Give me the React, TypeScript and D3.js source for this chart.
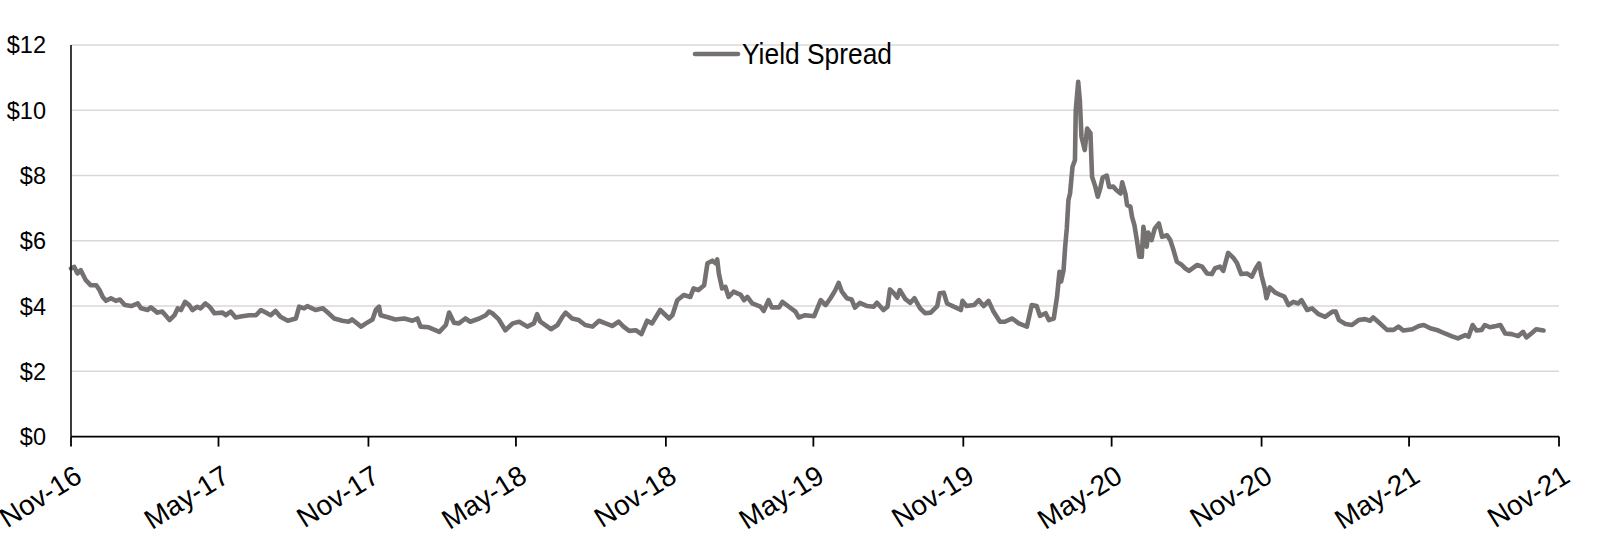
import React from "react";
import * as d3 from "d3";

const dates: string[] = [
  "2016-11-01","2016-11-05","2016-11-09","2016-11-13","2016-11-19","2016-11-25","2016-12-02","2016-12-06","2016-12-10","2016-12-14",
  "2016-12-20","2016-12-26","2016-12-31","2017-01-06","2017-01-14","2017-01-22","2017-01-26","2017-02-03","2017-02-07","2017-02-15",
  "2017-02-21","2017-02-25","2017-03-02","2017-03-08","2017-03-12","2017-03-16","2017-03-21","2017-03-26","2017-03-30","2017-04-05",
  "2017-04-09","2017-04-15","2017-04-20","2017-04-26","2017-05-06","2017-05-10","2017-05-16","2017-05-22","2017-05-30","2017-06-08",
  "2017-06-16","2017-06-22","2017-06-28","2017-07-04","2017-07-10","2017-07-16","2017-07-25","2017-08-04","2017-08-08","2017-08-14",
  "2017-08-18","2017-08-28","2017-09-06","2017-09-12","2017-09-20","2017-09-30","2017-10-08","2017-10-12","2017-10-23","2017-10-29",
  "2017-11-06","2017-11-10","2017-11-14","2017-11-16","2017-11-26","2017-12-04","2017-12-15","2017-12-25","2017-12-31","2018-01-04",
  "2018-01-14","2018-01-27","2018-02-04","2018-02-08","2018-02-14","2018-02-20","2018-02-28","2018-03-06","2018-03-17","2018-03-25",
  "2018-03-29","2018-04-02","2018-04-10","2018-04-18","2018-04-27","2018-05-05","2018-05-15","2018-05-23","2018-05-27","2018-05-31",
  "2018-06-13","2018-06-21","2018-06-27","2018-07-01","2018-07-09","2018-07-17","2018-07-25","2018-08-03","2018-08-11","2018-08-19",
  "2018-08-27","2018-09-04","2018-09-10","2018-09-17","2018-09-25","2018-10-02","2018-10-09","2018-10-15","2018-10-25","2018-11-05",
  "2018-11-09","2018-11-15","2018-11-23","2018-12-01","2018-12-05","2018-12-11","2018-12-18","2018-12-22","2018-12-28","2019-01-01",
  "2019-01-03","2019-01-05","2019-01-09","2019-01-13","2019-01-17","2019-01-23","2019-02-01","2019-02-05","2019-02-09","2019-02-15",
  "2019-02-25","2019-03-01","2019-03-07","2019-03-11","2019-03-20","2019-03-24","2019-04-01","2019-04-09","2019-04-13","2019-04-21",
  "2019-05-02","2019-05-10","2019-05-16","2019-05-22","2019-05-28","2019-06-01","2019-06-05","2019-06-11","2019-06-17","2019-06-21",
  "2019-06-27","2019-07-06","2019-07-14","2019-07-18","2019-07-26","2019-07-31","2019-08-03","2019-08-08","2019-08-12","2019-08-15",
  "2019-08-22","2019-08-28","2019-09-02","2019-09-09","2019-09-15","2019-09-22","2019-09-30","2019-10-03","2019-10-08","2019-10-12",
  "2019-10-23","2019-10-29","2019-10-31","2019-11-05","2019-11-14","2019-11-20","2019-11-26","2019-12-02","2019-12-08","2019-12-16",
  "2019-12-22","2019-12-31","2020-01-08","2020-01-18","2020-01-24","2020-01-30","2020-02-03","2020-02-10","2020-02-14","2020-02-20",
  "2020-02-24","2020-02-27","2020-02-29","2020-03-03","2020-03-05","2020-03-07","2020-03-09","2020-03-11","2020-03-14","2020-03-17",
  "2020-03-18","2020-03-21","2020-03-23","2020-03-25","2020-03-29","2020-04-01","2020-04-05","2020-04-07","2020-04-11","2020-04-14",
  "2020-04-17","2020-04-20","2020-04-25","2020-04-28","2020-05-03","2020-05-07","2020-05-12","2020-05-14","2020-05-18","2020-05-20",
  "2020-05-24","2020-05-26","2020-05-29","2020-06-01","2020-06-04","2020-06-07","2020-06-09","2020-06-13","2020-06-15","2020-06-19",
  "2020-06-23","2020-06-28","2020-07-02","2020-07-08","2020-07-12","2020-07-16","2020-07-20","2020-07-26","2020-07-30","2020-08-04",
  "2020-08-14","2020-08-20","2020-08-26","2020-09-01","2020-09-05","2020-09-11","2020-09-15","2020-09-21","2020-09-28","2020-10-02",
  "2020-10-07","2020-10-14","2020-10-20","2020-10-25","2020-10-29","2020-11-01","2020-11-05","2020-11-07","2020-11-11","2020-11-18",
  "2020-11-24","2020-11-29","2020-12-04","2020-12-10","2020-12-16","2020-12-20","2020-12-27","2021-01-02","2021-01-10","2021-01-18",
  "2021-01-27","2021-01-31","2021-02-04","2021-02-12","2021-02-20","2021-02-28","2021-03-08","2021-03-14","2021-03-18","2021-03-24",
  "2021-04-04","2021-04-12","2021-04-18","2021-04-24","2021-05-05","2021-05-13","2021-05-19","2021-05-27","2021-06-06","2021-06-14",
  "2021-06-22","2021-06-30","2021-07-09","2021-07-13","2021-07-18","2021-07-23","2021-07-29","2021-08-02","2021-08-08","2021-08-16",
  "2021-08-21","2021-08-27","2021-09-04","2021-09-12","2021-09-18","2021-09-22","2021-09-28","2021-10-04","2021-10-13"
];

const yieldSpread: number[] = [
  5.15,5.2,5.0,5.1,4.8,4.64,4.64,4.49,4.28,4.16,
  4.24,4.16,4.2,4.03,4.0,4.08,3.93,3.88,3.96,3.8,
  3.83,3.72,3.57,3.72,3.93,3.88,4.13,4.03,3.88,3.98,
  3.93,4.08,3.98,3.78,3.8,3.72,3.83,3.65,3.69,3.72,
  3.72,3.88,3.8,3.72,3.85,3.67,3.55,3.62,3.98,3.93,
  4.0,3.88,3.93,3.8,3.62,3.55,3.52,3.59,3.37,3.47,
  3.59,3.88,3.98,3.72,3.65,3.59,3.62,3.55,3.62,3.37,
  3.35,3.21,3.42,3.8,3.49,3.47,3.62,3.52,3.62,3.72,
  3.83,3.78,3.59,3.26,3.47,3.52,3.37,3.47,3.75,3.52,
  3.29,3.42,3.67,3.8,3.62,3.57,3.42,3.37,3.55,3.47,
  3.39,3.52,3.37,3.24,3.26,3.14,3.55,3.47,3.88,3.62,
  3.72,4.18,4.34,4.28,4.54,4.49,4.64,5.31,5.39,5.31,
  5.43,5.0,4.54,4.59,4.28,4.44,4.34,4.18,4.28,4.08,
  3.98,3.85,4.18,3.96,3.96,4.13,3.98,3.83,3.65,3.72,
  3.69,4.18,4.03,4.24,4.49,4.71,4.44,4.24,4.2,3.95,
  4.1,4.0,3.98,4.1,3.88,3.98,4.51,4.39,4.26,4.49,
  4.21,4.1,4.24,3.93,3.78,3.8,4.0,4.39,4.41,4.08,
  3.95,3.88,4.16,4.0,4.03,4.18,4.0,4.16,3.83,3.52,
  3.52,3.62,3.47,3.37,4.03,4.0,3.7,3.78,3.57,3.62,
  4.28,5.05,4.75,5.1,5.82,6.38,7.25,7.45,8.27,8.47,
  10.0,10.87,10.3,9.19,8.78,9.44,9.3,7.96,7.66,7.35,
  7.6,7.94,8.0,7.65,7.66,7.55,7.45,7.79,7.43,7.09,
  7.05,6.74,6.47,6.02,5.51,5.51,6.43,5.82,6.25,6.02,
  6.38,6.53,6.12,6.17,6.02,5.71,5.36,5.26,5.16,5.08,
  5.26,5.21,5.0,4.98,5.16,5.21,5.08,5.63,5.46,5.31,
  4.98,5.0,4.9,5.16,5.31,4.93,4.54,4.24,4.57,4.41,
  4.34,4.29,4.03,4.13,4.08,4.18,3.88,3.93,3.75,3.67,
  3.83,3.83,3.57,3.45,3.42,3.57,3.6,3.55,3.65,3.52,
  3.27,3.27,3.37,3.25,3.29,3.39,3.42,3.32,3.25,3.16,
  3.08,3.01,3.11,3.06,3.42,3.25,3.27,3.42,3.35,3.39,
  3.42,3.16,3.14,3.08,3.21,3.04,3.16,3.29,3.25
];

const yTickValues: number[] = [0, 2, 4, 6, 8, 10, 12];
const xTickDates: string[] = [
  "2016-11-01","2017-05-01","2017-11-01","2018-05-01","2018-11-01","2019-05-01",
  "2019-11-01","2020-05-01","2020-11-01","2021-05-01","2021-11-01"
];
const xTickLabels: string[] = [
  "Nov-16","May-17","Nov-17","May-18","Nov-18","May-19","Nov-19","May-20","Nov-20","May-21","Nov-21"
];
const seriesName = "Yield Spread";

const W = 1599;
const H = 550;
const LEFT = 71;
const RIGHT = 1559;
const TOP = 45;
const BOTTOM = 436.6;
const FONT = "'Liberation Sans', Arial, sans-serif";
const LINE_COLOR = "#767171";

export default function App() {
  const parse = d3.timeParse("%Y-%m-%d");
  const x = d3
    .scaleTime()
    .domain([parse(xTickDates[0])!, parse(xTickDates[xTickDates.length - 1])!])
    .range([LEFT, RIGHT]);
  const y = d3.scaleLinear().domain([0, 12]).range([BOTTOM, TOP]);

  const data = dates.map((d, i) => ({ date: parse(d)!, v: yieldSpread[i] }));
  const line = d3
    .line<{ date: Date; v: number }>()
    .x((d) => x(d.date))
    .y((d) => y(d.v));

  return (
    <svg
      width={W}
      height={H}
      style={{ position: "absolute", left: 0, top: 0, background: "#fff" }}
      fontFamily={FONT}
    >
      <rect x={0} y={0} width={W} height={H} fill="#fff" />
      {yTickValues
        .filter((v) => v > 0)
        .map((v) => (
          <line
            key={"g" + v}
            x1={LEFT}
            x2={RIGHT}
            y1={y(v)}
            y2={y(v)}
            stroke="#d9d9d9"
            strokeWidth={1.5}
          />
        ))}
      {yTickValues.map((v) => (
        <text
          key={"yl" + v}
          x={46}
          y={y(v)}
          dy="0.36em"
          textAnchor="end"
          fontSize={23.5}
          fill="#000"
        >
          {"$" + v}
        </text>
      ))}
      <path
        d={line(data) || ""}
        fill="none"
        stroke={LINE_COLOR}
        strokeWidth={4.6}
        strokeLinejoin="round"
        strokeLinecap="round"
      />
      <line x1={LEFT} x2={LEFT} y1={TOP} y2={BOTTOM} stroke="#262626" strokeWidth={1.8} />
      <line x1={LEFT} x2={RIGHT} y1={BOTTOM} y2={BOTTOM} stroke="#000" strokeWidth={1.8} />
      {xTickDates.map((d, i) => {
        const xp = x(parse(d)!);
        return (
          <g key={"xt" + d}>
            <line x1={xp} x2={xp} y1={BOTTOM} y2={BOTTOM + 10} stroke="#000" strokeWidth={1.8} />
            <text
              transform={`translate(${xp + 2},${BOTTOM + 27}) rotate(-32)`}
              textAnchor="end"
              dy="0.72em"
              fontSize={28}
              fill="#000"
            >
              {xTickLabels[i]}
            </text>
          </g>
        );
      })}
      <g>
        <line x1={695} x2={738} y1={54} y2={54} stroke={LINE_COLOR} strokeWidth={4.6} strokeLinecap="round" />
        <text x={742} y={54} dy="0.36em" fontSize={29} textLength={150} lengthAdjust="spacingAndGlyphs" fill="#000">
          {seriesName}
        </text>
      </g>
    </svg>
  );
}
